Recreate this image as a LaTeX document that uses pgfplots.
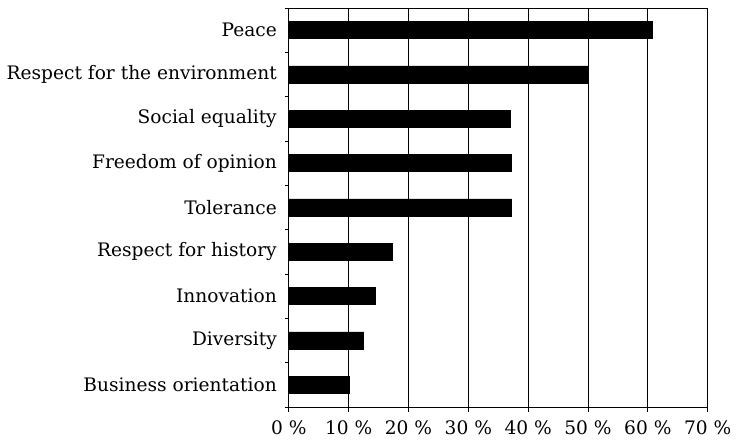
\documentclass[border=0pt]{standalone}
\usepackage{pgfplots}
\pgfplotsset{compat=1.18}
\usepackage{fontspec}
\setmainfont{DejaVu Serif}
\begin{document}
\begin{tikzpicture}
\begin{axis}[
  xbar,
  scale only axis,
  width=209.5pt, height=199.5pt,
  xmin=0, xmax=70,
  ymin=-0.5, ymax=8.5,
  bar width=8.5pt,
  xtick={0,10,...,70},
  xticklabels={0 \%,10 \%,20 \%,30 \%,40 \%,50 \%,60 \%,70 \%},
  ytick={0,...,8},
  yticklabels={Business orientation,Diversity,Innovation,Respect for history,Tolerance,Freedom of opinion,Social equality,Respect for the environment,Peace},
  minor ytick={-0.5,0.5,...,8.5},
  xtick pos=bottom,
  ytick pos=left,
  tick align=outside,
  major tick length=2.5pt,
  minor tick length=2pt,
  major x tick style={black, thin},
  major y tick style={draw=none},
  minor y tick style={black, thin},
  xmajorgrids,
  major x grid style={black, thin},
  axis line style={black, thin},
  tick label style={font=\fontsize{9.3}{10}\selectfont},
  /pgf/number format/assume math mode=true,
  yticklabel style={xshift=0pt},
  xticklabel style={yshift=-1pt},
]
\addplot[fill=black, draw=black] coordinates {
  (10.2,0) (12.5,1) (14.4,2) (17.3,3) (37.2,4) (37.2,5) (37.1,6) (50,7) (60.8,8)
};
\end{axis}
\coordinate (bbw) at (current bounding box.south west);
\coordinate (bbe) at (current bounding box.north east);
\coordinate (axbot) at ([yshift=-18.5pt]current axis.south);
\coordinate (axtop) at ([yshift=4pt]current axis.north);
\pgfresetboundingbox
\path[use as bounding box] (bbw |- axbot) rectangle (bbe |- axtop);
\end{tikzpicture}
\end{document}
